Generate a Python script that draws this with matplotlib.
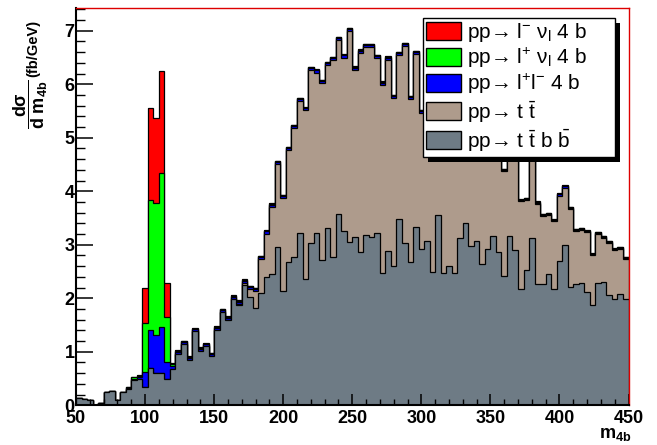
import matplotlib.pyplot as plt
import numpy as np
from matplotlib.patches import Patch, Rectangle
from matplotlib.ticker import MultipleLocator

plt.rcParams['font.family'] = ['Liberation Sans', 'DejaVu Sans']
plt.rcParams['mathtext.fontset'] = 'custom'
plt.rcParams['mathtext.rm'] = 'Liberation Sans'
plt.rcParams['mathtext.it'] = 'Liberation Sans:italic'
plt.rcParams['mathtext.bf'] = 'Liberation Sans:bold'
plt.rcParams['mathtext.default'] = 'regular'

# m_4b bins: 100 bins of 4 GeV from 50 to 450
bin_edges = np.arange(50, 454, 4)

# pp -> t tbar b bbar (grey, bottom of the stack)
ttbb = [0.14, 0.12, 0.10, 0.01, 0.05, 0.25, 0.27, 0.10, 0.24, 0.31,
        0.47, 0.50, 0.35, 0.69, 0.61, 0.61, 0.50, 0.67, 0.96, 1.14,
        0.85, 1.38, 1.02, 1.10, 0.92, 1.41, 1.74, 1.60, 1.99, 1.88,
        2.25, 2.03, 1.81, 2.10, 2.40, 2.45, 2.96, 2.14, 2.67, 2.77,
        3.22, 2.36, 3.03, 3.22, 2.72, 3.31, 2.77, 3.57, 3.26, 3.06,
        3.14, 2.86, 3.18, 3.14, 3.22, 2.48, 2.89, 2.60, 3.48, 3.04,
        2.67, 3.34, 2.92, 3.08, 2.50, 3.56, 2.48, 2.61, 2.48, 3.12,
        3.40, 2.97, 3.08, 2.64, 2.92, 3.17, 2.86, 2.42, 3.17, 2.91,
        2.17, 2.53, 3.12, 2.26, 2.26, 2.45, 2.17, 2.70, 2.99, 2.21,
        2.27, 2.29, 2.11, 1.88, 2.29, 2.31, 2.06, 1.98, 2.08, 1.98]

# pp -> t tbar (brown)
tt = [0.00, 0.00, 0.00, 0.00, 0.00, 0.00, 0.00, 0.00, 0.00, 0.00,
      0.00, 0.00, 0.00, 0.00, 0.00, 0.00, 0.00, 0.00, 0.00, 0.00,
      0.00, 0.00, 0.00, 0.00, 0.00, 0.00, 0.00, 0.00, 0.00, 0.02,
      0.04, 0.14, 0.32, 0.63, 0.81, 1.26, 1.55, 1.73, 2.10, 2.41,
      2.46, 3.15, 3.23, 3.00, 3.30, 3.05, 3.68, 3.25, 3.24, 3.93,
      3.13, 3.73, 3.51, 3.55, 3.27, 3.51, 3.57, 3.14, 3.06, 3.67,
      3.05, 3.22, 2.54, 3.06, 3.04, 2.88, 2.96, 3.03, 2.76, 2.62,
      2.54, 2.37, 2.46, 2.30, 2.32, 2.27, 2.18, 1.95, 1.97, 1.93,
      1.64, 1.31, 1.72, 1.51, 1.28, 1.11, 1.27, 1.22, 1.08, 1.46,
      0.99, 0.99, 1.12, 0.92, 0.91, 0.82, 0.98, 0.92, 0.84, 0.76]

# pp -> l+ l- 4b (blue)
llbb = [0.00, 0.00, 0.00, 0.00, 0.00, 0.00, 0.00, 0.00, 0.00, 0.02,
        0.03, 0.03, 0.27, 0.72, 0.71, 0.85, 0.30, 0.07, 0.04, 0.04,
        0.04, 0.04, 0.04, 0.04, 0.04, 0.04, 0.04, 0.04, 0.04, 0.04,
        0.04, 0.04, 0.04, 0.04, 0.04, 0.04, 0.04, 0.04, 0.04, 0.04,
        0.04, 0.04, 0.04, 0.04, 0.04, 0.04, 0.04, 0.04, 0.04, 0.04,
        0.04, 0.04, 0.04, 0.04, 0.04, 0.04, 0.04, 0.04, 0.04, 0.04,
        0.04, 0.04, 0.04, 0.04, 0.04, 0.04, 0.04, 0.04, 0.04, 0.04,
        0.03, 0.03, 0.03, 0.03, 0.03, 0.03, 0.03, 0.03, 0.03, 0.03,
        0.02, 0.02, 0.02, 0.02, 0.02, 0.02, 0.02, 0.02, 0.02, 0.02,
        0.02, 0.02, 0.02, 0.02, 0.02, 0.02, 0.02, 0.02, 0.02, 0.02]

# pp -> l+ nu 4b (green)
lpnu = [0.00, 0.00, 0.00, 0.00, 0.00, 0.00, 0.00, 0.00, 0.00, 0.01,
        0.02, 0.02, 0.91, 2.43, 2.46, 2.88, 0.85, 0.04, 0.015, 0.015,
        0.015, 0.015, 0.015, 0.015, 0.015, 0.015, 0.015, 0.015, 0.015, 0.015,
        0.015, 0.015, 0.015, 0.015, 0.015, 0.015, 0.015, 0.015, 0.015, 0.015,
        0.015, 0.015, 0.015, 0.015, 0.015, 0.015, 0.015, 0.015, 0.015, 0.015,
        0.015, 0.015, 0.015, 0.015, 0.015, 0.015, 0.015, 0.015, 0.015, 0.015,
        0.015, 0.015, 0.015, 0.015, 0.015, 0.015, 0.015, 0.015, 0.015, 0.015,
        0.015, 0.015, 0.015, 0.015, 0.015, 0.015, 0.015, 0.015, 0.015, 0.015,
        0.01, 0.01, 0.01, 0.01, 0.01, 0.01, 0.01, 0.01, 0.01, 0.01,
        0.01, 0.01, 0.01, 0.01, 0.01, 0.01, 0.01, 0.01, 0.01, 0.01]

# pp -> l- nu 4b (red, top of the stack)
lmnu = [0.00, 0.00, 0.00, 0.00, 0.00, 0.00, 0.00, 0.00, 0.00, 0.00,
        0.01, 0.01, 0.66, 1.71, 1.59, 1.91, 0.63, 0.01, 0.01, 0.01,
        0.01, 0.01, 0.01, 0.01, 0.01, 0.01, 0.01, 0.01, 0.01, 0.01,
        0.01, 0.01, 0.01, 0.01, 0.01, 0.01, 0.01, 0.01, 0.01, 0.01,
        0.01, 0.01, 0.01, 0.01, 0.01, 0.01, 0.01, 0.01, 0.01, 0.01,
        0.01, 0.01, 0.01, 0.01, 0.01, 0.01, 0.01, 0.01, 0.01, 0.01,
        0.01, 0.01, 0.01, 0.01, 0.01, 0.01, 0.01, 0.01, 0.01, 0.01,
        0.01, 0.01, 0.01, 0.01, 0.01, 0.01, 0.01, 0.01, 0.01, 0.01,
        0.01, 0.01, 0.01, 0.01, 0.01, 0.01, 0.01, 0.01, 0.01, 0.01,
        0.01, 0.01, 0.01, 0.01, 0.01, 0.01, 0.01, 0.01, 0.01, 0.01]

labels = [r'pp→ l$^{-}$ $\nu_{l}$ 4 b',
          r'pp→ l$^{+}$ $\nu_{l}$ 4 b',
          r'pp→ l$^{+}$l$^{-}$ 4 b',
          r'pp→ t $\bar{t}$',
          r'pp→ t $\bar{t}$ b $\bar{b}$']
colors = ['#ff0000', '#00ff00', '#0000ff', '#ae9b8c', '#6e7b85']

xticks = [50, 100, 150, 200, 250, 300, 350, 400, 450]
yticks = [0, 1, 2, 3, 4, 5, 6, 7]

# stack from the bottom up
stack = np.array([ttbb, tt, llbb, lpnu, lmnu])
stack_colors = colors[::-1]
cum = np.cumsum(stack, axis=0)

W, H = 657, 445
fig = plt.figure(figsize=(W / 100, H / 100), dpi=100)
ax = fig.add_axes([76 / W, 1 - 405.3 / H, 552.5 / W, 397 / H])

for k in reversed(range(len(stack))):
    ax.stairs(cum[k], bin_edges, fill=True, color=stack_colors[k], lw=0)
    ax.stairs(cum[k], bin_edges, color='k', lw=0.9)

ax.set_xlim(50, 450)
ax.set_ylim(0, 7.42)
ax.set_xticks(xticks, [str(v) for v in xticks], fontweight='bold', fontsize=13)
ax.set_yticks(yticks, [str(v) for v in yticks], fontweight='bold', fontsize=13)
ax.xaxis.set_minor_locator(MultipleLocator(10))
ax.yaxis.set_minor_locator(MultipleLocator(0.2))
ax.tick_params(which='both', direction='in', top=False, right=False)
ax.tick_params(axis='y', which='major', length=12, width=1.1, pad=1)
ax.tick_params(axis='y', which='minor', length=6.5, width=1)
ax.tick_params(axis='x', which='major', length=8, width=1.1, pad=3.5)
ax.tick_params(axis='x', which='minor', length=4.3, width=1)

for s in ['left', 'bottom']:
    ax.spines[s].set_linewidth(1.5)
    ax.spines[s].set_color('k')
for s in ['top', 'right']:
    ax.spines[s].set_linewidth(1)
    ax.spines[s].set_color('#dd0000')

handles = [Patch(facecolor=c, edgecolor='k', lw=1) for c in colors]
leg = ax.legend(handles, labels, loc='upper left',
                bbox_to_anchor=(423 / W, 1 - 157 / H, 192 / W, 139 / H),
                bbox_transform=fig.transFigure, mode='expand', borderaxespad=0,
                fontsize=15, handlelength=1.65, handleheight=0.95,
                handletextpad=0.3, labelspacing=0.1, borderpad=0.15,
                fancybox=False, framealpha=1, edgecolor='k')
leg.get_frame().set_linewidth(1)
leg.set_zorder(6)

# ROOT style black shadow under the legend box, placed from the drawn extent
fig.canvas.draw()
bb = leg.get_window_extent()
ax.add_patch(Rectangle((bb.x0 + 5, bb.y0 - 5), bb.width, bb.height,
                       transform=None, facecolor='k',
                       edgecolor='none', zorder=5.5, clip_on=False))

fig.text(31 / W, 1 - 80 / H, r'$\mathbf{\dfrac{d\sigma}{d\ m_{4b}}}$',
         rotation=90, ha='center', va='top', fontsize=13, fontweight='bold')
fig.text(33 / W, 1 - 20 / H, '(fb/GeV)',
         rotation=90, ha='center', va='top', fontsize=10.5, fontweight='bold')
fig.text(631 / W, 0.004, r'$\mathbf{m_{4b}}$', ha='right', va='bottom',
         fontsize=13, fontweight='bold')

fig.savefig('out.png', dpi=100)
